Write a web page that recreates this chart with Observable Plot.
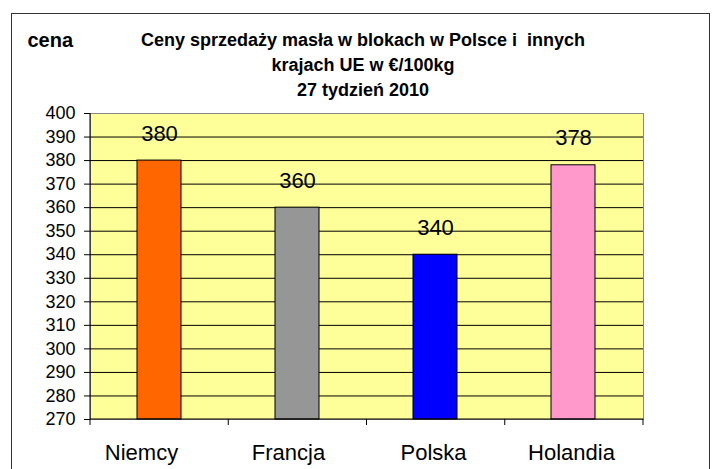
<!DOCTYPE html>
<html><head><meta charset="utf-8">
<script src="https://cdn.jsdelivr.net/npm/d3@7"></script>
<script src="https://cdn.jsdelivr.net/npm/@observablehq/plot@0.6"></script>
<style>
body{margin:0;background:#fff;font-family:"Liberation Sans",Arial,sans-serif;}
#wrap{position:relative;width:717px;height:469px;overflow:hidden;}
#border{position:absolute;left:11px;top:13px;width:697px;height:470px;border:1.5px solid #333;}
#chart{position:absolute;left:0;top:0;}
</style></head>
<body><div id="wrap"><div id="border"></div><div id="chart"></div></div>
<script>
const categories = ["Niemcy","Francja","Polska","Holandia"];
const values = [380, 360, 340, 378];
const colors = ["#FF6600","#969696","#0000FF","#FF99CC"];
const yTicks = [270,280,290,300,310,320,330,340,350,360,370,380,390,400];
const titleLines = ["Ceny sprzedaży masła w blokach w Polsce i  innych","krajach UE w €/100kg","27 tydzień 2010"];
const yLabel = "cena";
const yMin = 270, yMax = 400;
// horizontal nudges of the category labels as rendered in the original
const labelShift = [-18, -9, -2, -2];

const data = categories.map((c,i)=>({c, v: values[i], col: colors[i]}));

const axesMark = (index, scales, values, dim) => {
  const g = d3.create("svg:g");
  const L = dim.marginLeft, R = dim.width - dim.marginRight, B = dim.height - dim.marginBottom, T = dim.marginTop;
  const n = categories.length, w = (R - L) / n;
  g.append("line").attr("x1",L).attr("x2",L).attr("y1",T).attr("y2",B).attr("stroke","black");
  g.append("line").attr("x1",L).attr("x2",R).attr("y1",B).attr("y2",B).attr("stroke","black");
  for (let i = 0; i <= n; i++) {
    g.append("line").attr("x1",L+i*w).attr("x2",L+i*w).attr("y1",B).attr("y2",B+6).attr("stroke","black");
  }
  return g.node();
};

const titleMarks = titleLines.map((t, i) =>
  Plot.text([t], {frameAnchor: "top", dx: -4, dy: -73 + i * 25, text: d => d, fontSize: 18, fontWeight: "bold", fill: "black", lineAnchor: "middle"})
);

const catMarks = categories.map((c, i) =>
  Plot.text([c], {x: d => d, frameAnchor: "bottom", dx: labelShift[i], dy: 33, text: d => d, fontSize: 22, fill: "black", lineAnchor: "middle"})
);

const plot = Plot.plot({
  width: 717, height: 469,
  marginLeft: 90, marginTop: 113, marginRight: 74, marginBottom: 50,
  style: {fontFamily: '"Liberation Sans", Arial, sans-serif', fontSize: "18px", background: "transparent", overflow: "visible", color: "black"},
  x: {domain: categories, paddingInner: 0.68, paddingOuter: 0.34, align: 0.5, label: null, axis: null},
  y: {domain: [yMin, yMax], ticks: yTicks, label: null, tickSize: 6, tickPadding: 9},
  marks: [
    Plot.frame({fill: "#FFFF99", stroke: "#888"}),
    Plot.ruleY(yTicks.filter(t => t > yMin && t < yMax), {stroke: "black", strokeWidth: 1}),
    Plot.barY(data, {x: "c", y1: yMin, y2: "v", fill: "col", stroke: "black", strokeWidth: 1}),
    Plot.text(data, {x: "c", y: "v", text: d => String(d.v), dy: -27, fontSize: 22, fill: "black"}),
    axesMark,
    ...catMarks,
    Plot.text([yLabel], {frameAnchor: "top-left", dx: -63, dy: -73, fontSize: 20, fontWeight: "bold", textAnchor: "start", lineAnchor: "middle", fill: "black"}),
    ...titleMarks
  ]
});
document.getElementById("chart").append(plot);
</script></body></html>
